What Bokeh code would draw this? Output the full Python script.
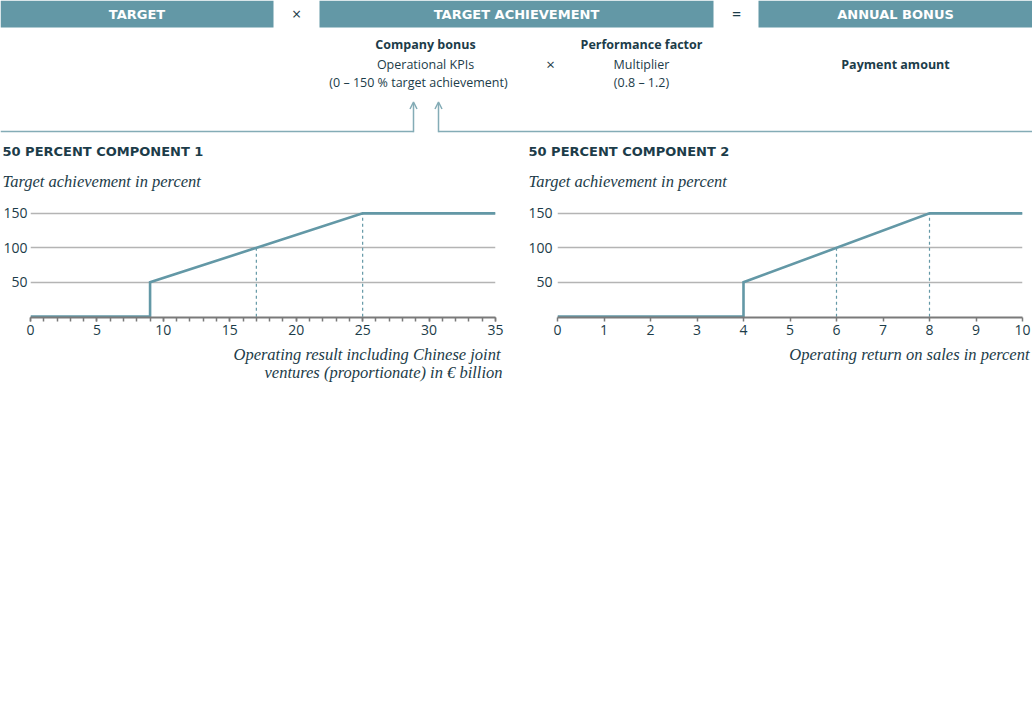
from bokeh.plotting import figure
from bokeh.layouts import column, row
from bokeh.models import Range1d, FixedTicker, Arrow, OpenHead
from bokeh.core.properties import value
from bokeh.embed import file_html
from bokeh.resources import INLINE

TEAL = "#6398a6"
ARROW = "#84acb6"
DARK = "#1c3c49"
GRID = "#b4b4b4"
AXIS = "#7a7a7a"
SANS = "Open Sans"
CAPS = "DejaVu Sans"
SERIF = "Liberation Serif"

# formula header
box_labels = ["TARGET", "TARGET ACHIEVEMENT", "ANNUAL BONUS"]
operators = ["×", "="]
heads = ["Company bonus", "Performance factor", "Payment amount"]
details = ["Operational KPIs", "(0 – 150 % target achievement)", "Multiplier", "(0.8 – 1.2)"]
detail_operator = "×"

# component charts
titles = ["50 PERCENT COMPONENT 1", "50 PERCENT COMPONENT 2"]
y_title = "Target achievement in percent"
levels = [50, 100, 150]

c1_x = [0, 9, 9, 25, 35]
c1_y = [0, 0, 50, 150, 150]
c1_mark_x = [17, 25]
c1_mark_y = [100, 150]
c1_ticks = [0, 5, 10, 15, 20, 25, 30, 35]
c1_minor = list(range(0, 36))
c1_xtitle = ["Operating result including Chinese joint", "ventures (proportionate) in € billion"]

c2_x = [0, 4, 4, 8, 10]
c2_y = [0, 0, 50, 150, 150]
c2_mark_x = [6, 8]
c2_mark_y = [100, 150]
c2_ticks = list(range(0, 11))
c2_minor = []
c2_xtitle = ["Operating return on sales in percent"]


def canvas(height, top):
    # text-only strip drawn in page pixel coordinates
    p = figure(width=1032, height=height, x_range=Range1d(0, 1032),
               y_range=Range1d(top + height, top), x_axis_type=None, y_axis_type=None,
               output_backend="svg", toolbar_location=None, min_border=0)
    p.outline_line_color = None
    p.xgrid.visible = False
    p.ygrid.visible = False
    return p


# ---- header ----
h = canvas(200, 0)
box_left = [0, 319, 758]
box_right = [273, 713, 1032]
h.quad(left=box_left, right=box_right, top=0, bottom=27, fill_color=TEAL, line_color=None)
h.text(x=[(l + r) / 2 for l, r in zip(box_left, box_right)], y=14, text=box_labels,
       text_font=value(CAPS), text_font_style="bold", text_font_size="13px",
       text_color="white", text_align="center", text_baseline="middle")
h.text(x=[296, 736], y=13.5, text=operators, text_font=value(SANS), text_font_size="16px",
       text_color=DARK, text_align="center", text_baseline="middle")

h.text(x=[425, 641, 895], y=[44, 44, 64], text=heads, text_font=value(SANS),
       text_font_style="bold", text_font_size="12.5px", text_color=DARK,
       text_align="center", text_baseline="middle")
h.text(x=[425, 418, 641, 641], y=[64, 82, 64, 82], text=details, text_font=value(SANS),
       text_font_size="12.5px", text_color=DARK, text_align="center", text_baseline="middle")
h.text(x=[550], y=[63], text=[detail_operator], text_font=value(SANS), text_font_size="15px",
       text_color=DARK, text_align="center", text_baseline="middle")

h.line([0, 413], [131, 131], line_color=ARROW, line_width=1.5)
h.line([438, 1032], [131, 131], line_color=ARROW, line_width=1.5)
for ax in (413, 438):
    h.add_layout(Arrow(end=OpenHead(size=7, line_color=ARROW, line_width=1.5),
                       x_start=ax, y_start=131.75, x_end=ax, y_end=101.5,
                       line_color=ARROW, line_width=1.5))

h.text(x=[2, 528], y=151, text=titles, text_font=value(CAPS), text_font_style="bold",
       text_font_size="13px", text_color=DARK, text_align="left", text_baseline="middle")
h.text(x=[2, 528], y=181, text=[y_title, y_title], text_font=value(SERIF),
       text_font_style="italic", text_font_size="16.5px", text_color=DARK,
       text_align="left", text_baseline="middle")


def component_chart(xs, ys, mark_x, mark_y, ticks, minor, width, left, right, standoff):
    p = figure(width=width, height=140, x_range=Range1d(ticks[0], ticks[-1]),
               y_range=Range1d(-1.2, 160), output_backend="svg", toolbar_location=None,
               min_border_left=left, min_border_right=right, min_border_top=6,
               min_border_bottom=23)
    p.outline_line_color = None
    p.xgrid.grid_line_color = None
    p.ygrid.grid_line_color = GRID
    p.ygrid.grid_line_width = 1.3

    p.segment(x0=mark_x, y0=0, x1=mark_x, y1=mark_y, line_color=TEAL, line_width=1.2,
              line_dash="3 3")
    p.line(xs, ys, line_color=TEAL, line_width=2.6, line_join="miter")

    p.yaxis.ticker = FixedTicker(ticks=levels)
    p.yaxis.axis_line_color = None
    p.yaxis.major_tick_line_color = None
    p.yaxis.minor_tick_line_color = None
    p.yaxis.major_tick_in = 0
    p.yaxis.major_tick_out = 0
    p.yaxis.minor_tick_in = 0
    p.yaxis.minor_tick_out = 0
    p.yaxis.major_label_standoff = standoff
    p.yaxis.major_label_text_font = SANS
    p.yaxis.major_label_text_font_size = "14px"
    p.yaxis.major_label_text_color = DARK

    p.xaxis.ticker = FixedTicker(ticks=ticks, minor_ticks=minor)
    p.xaxis.axis_line_color = AXIS
    p.xaxis.axis_line_width = 2
    p.xaxis.major_tick_line_color = AXIS
    p.xaxis.minor_tick_line_color = AXIS
    p.xaxis.major_tick_line_width = 1.5
    p.xaxis.minor_tick_line_width = 1.5
    p.xaxis.major_tick_in = 0
    p.xaxis.major_tick_out = 4
    p.xaxis.minor_tick_in = 0
    p.xaxis.minor_tick_out = 4
    p.xaxis.major_label_standoff = 3
    p.xaxis.major_label_text_font = SANS
    p.xaxis.major_label_text_font_size = "14px"
    p.xaxis.major_label_text_color = DARK
    return p


c1 = component_chart(c1_x, c1_y, c1_mark_x, c1_mark_y, c1_ticks, c1_minor, 516, 30, 21, 3)
c2 = component_chart(c2_x, c2_y, c2_mark_x, c2_mark_y, c2_ticks, c2_minor, 516, 41, 10, 5)

# ---- axis titles below the charts ----
f = canvas(50, 340)
f.text(x=[500, 502, 1029], y=[354, 372, 354], text=c1_xtitle + c2_xtitle,
       text_font=value(SERIF), text_font_style="italic", text_font_size="16.5px",
       text_color=DARK, text_align="right", text_baseline="middle")

layout = column(h, row(c1, c2), f)
open("out.html", "w").write(file_html(layout, INLINE))
